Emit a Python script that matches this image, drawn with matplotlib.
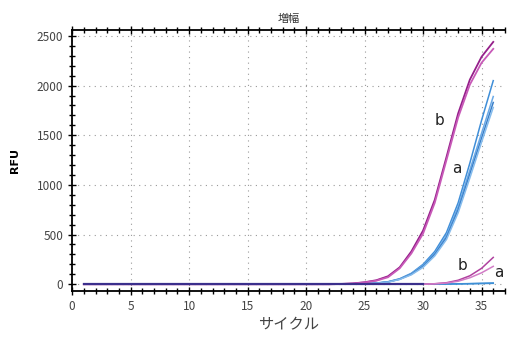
import matplotlib.pyplot as plt
from matplotlib.ticker import MultipleLocator

plt.rcParams["font.family"] = ["Noto Sans CJK JP", "DejaVu Sans"]

cycles = list(range(1, 37))

# high-template curves (b: purple, a: blue), cycles 23..36
purple_hi = [
    [0] * 22 + [3, 8, 20, 40, 80, 170, 330, 540, 850, 1280, 1720, 2060, 2290, 2440],
    [0] * 22 + [2, 7, 18, 35, 70, 160, 310, 510, 820, 1250, 1680, 2010, 2230, 2370],
]
blue_hi = [
    [0] * 22 + [1, 3, 6, 12, 25, 55, 110, 200, 330, 520, 820, 1220, 1650, 2050],
    [0] * 22 + [1, 3, 6, 11, 23, 52, 105, 190, 310, 490, 780, 1150, 1520, 1890],
    [0] * 22 + [1, 2, 5, 10, 22, 50, 100, 180, 300, 470, 750, 1110, 1470, 1830],
    [0] * 22 + [1, 2, 5, 10, 21, 48, 95, 170, 285, 450, 720, 1070, 1430, 1780],
]
# low-template curves
purple_lo = [
    [0] * 30 + [5, 15, 40, 85, 160, 270],
    [0] * 30 + [4, 12, 30, 65, 115, 180],
]
blue_lo = [
    [0] * 30 + [1, 2, 4, 6, 9, 12],
    [0] * 30 + [1, 2, 3, 5, 7, 9],
]
flat = [0] * 36

labels = [("b", 31.4, 1650), ("a", 32.9, 1170), ("b", 33.4, 190), ("a", 36.5, 120)]

fig = plt.figure(figsize=(5.08, 3.37), dpi=100)
ax = fig.add_axes([0.142, 0.136, 0.852, 0.775])

for y in blue_lo:
    ax.plot(cycles, y, color="#3d8fd6", lw=1.1)
for i, y in enumerate(purple_lo):
    ax.plot(cycles, y, color=["#b0419f", "#d27cc6"][i], lw=1.1)
for i, y in enumerate(blue_hi):
    ax.plot(cycles, y, color=["#3f8ed8", "#6aa9e6", "#3a7fc8", "#86bced"][i], lw=1.1)
for i, y in enumerate(purple_hi):
    ax.plot(cycles, y, color=["#951f8a", "#c85ab8"][i], lw=1.3)
ax.plot(cycles[:30], flat[:30], color="#3b2f8c", lw=1.6)

for s, x, y in labels:
    ax.text(x, y, s, fontsize=11, color="#222222", ha="center", va="center",
            family="DejaVu Sans")

ax.set_xlim(0, 37)
ax.set_ylim(-70, 2560)
ax.xaxis.set_major_locator(MultipleLocator(5))
ax.xaxis.set_minor_locator(MultipleLocator(1))
ax.yaxis.set_major_locator(MultipleLocator(500))
ax.yaxis.set_minor_locator(MultipleLocator(100))
ax.tick_params(which="both", direction="inout", top=True, labelsize=8.5,
               labelcolor="#444444", width=1)
ax.tick_params(which="major", length=6)
ax.tick_params(which="minor", length=4)
ax.grid(True, which="major", ls=(0, (1, 4)), color="#999999", lw=0.8)
for sp in ax.spines.values():
    sp.set_linewidth(1.3)
ax.spines["right"].set_visible(False)

ax.set_title("増幅", fontsize=8, color="#333333", pad=6)
ax.set_ylabel("RFU", fontsize=8, fontweight="bold", family="DejaVu Sans", labelpad=12)
ax.set_xlabel("サイクル", fontsize=11, color="#444444", labelpad=2)

fig.savefig("out.png", dpi=100)
